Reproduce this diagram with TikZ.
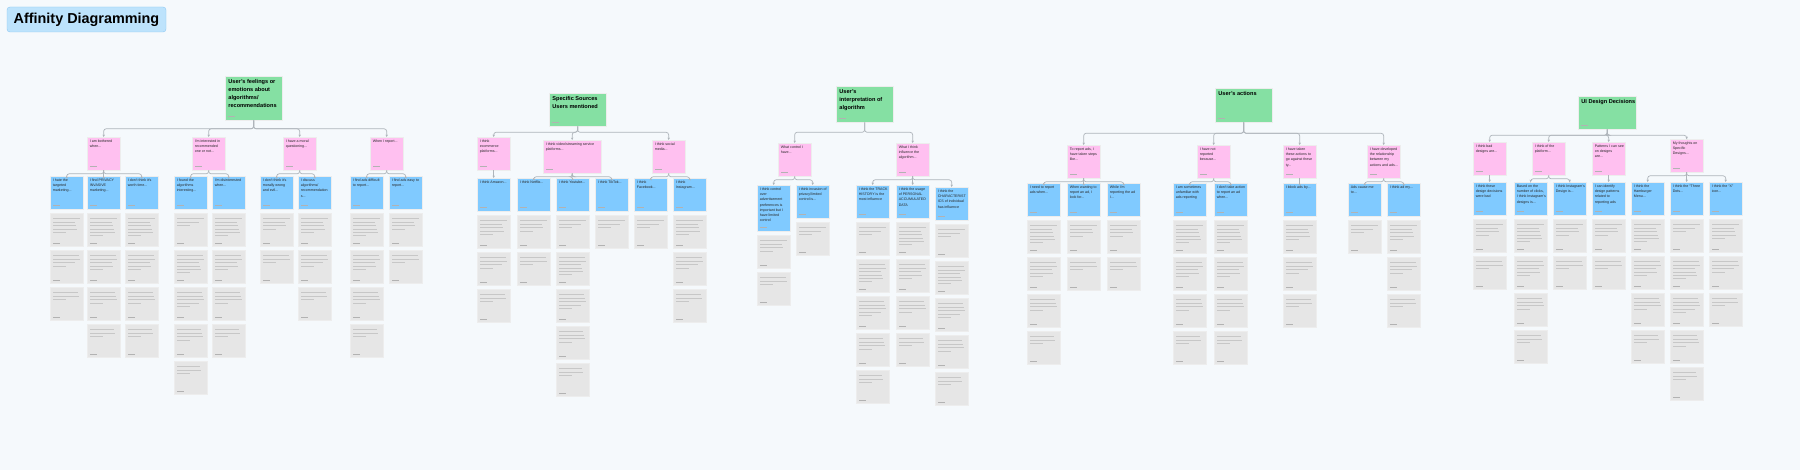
\documentclass[tikz,border=0pt]{standalone}
\usepackage{fontspec}
\setmainfont{Liberation Sans}
\usetikzlibrary{arrows.meta}
\definecolor{canvas}{HTML}{F5F9FC}
\definecolor{titlefill}{HTML}{BDE3FC}
\definecolor{titleline}{HTML}{8CC8F2}
\definecolor{stgreen}{HTML}{85E0A3}
\definecolor{stpink}{HTML}{FFC0F0}
\definecolor{stblue}{HTML}{80CAFF}
\definecolor{stgrey}{HTML}{E6E6E6}
\definecolor{linkc}{HTML}{AEB4BA}

\begin{document}
\begin{tikzpicture}[x=1pt, y=1pt,
    sticky/.style={anchor=north west, minimum width=33pt, minimum height=33pt, inner sep=0pt,
        draw=black!7, line width=.3pt,
        path picture={\draw[black!30, line width=.6pt] ([shift={(3,3.5)}]path picture bounding box.south west) -- ++(7,0);}},
    head/.style={sticky, fill=stgreen, minimum width=57pt},
    topic/.style={sticky, fill=stpink},
    idea/.style={sticky, fill=stblue},
    quote/.style={sticky, fill=stgrey},
    words/.style={anchor=north west, inner sep=2.6pt, align=left, text=black!85,
        font=\fontsize{3.6}{5.2}\selectfont},
    hwords/.style={words, inner sep=3.2pt, text=black, font=\fontsize{5.6}{8}\selectfont\bfseries},
    greek/.style={black!22, line width=.7pt},
    link/.style={draw=linkc, line width=.7pt, rounded corners=2.5pt, -{Stealth[length=2.4pt,width=2.4pt]}}]

    \useasboundingbox (0,0) rectangle (1800,-470);
    \fill[canvas] (0,0) rectangle (1800,-470);
    \node[draw=titleline, fill=titlefill, rounded corners=3pt, minimum width=159pt, minimum height=25pt,
        font=\fontsize{14.4}{17}\selectfont\bfseries] (title) at (86.5,-19.5) {Affinity Diagramming};

    % feelings
    \node[head, minimum height=44pt, label={[hwords]north west:{User's feelings or\\emotions about\\algorithms/\\recommendations}}] (g1) at (225,-76) {};
    \node[topic, label={[words]north west:{I am bothered\\when...}}] (p11) at (87,-137) {};
    \node[topic, label={[words]north west:{I'm interested in\\recommended\\one or not...}}] (p12) at (192,-137) {};
    \node[topic, label={[words]north west:{I have a moral\\questioning...}}] (p13) at (283,-137) {};
    \node[topic, label={[words]north west:{When I report...}}] (p14) at (370,-137) {};
    \node[idea, label={[words]north west:{I hate the\\targeted\\marketing...}}] (b11) at (50,-176) {};
    \node[idea, label={[words]north west:{I find PRIVACY\\INVASIVE\\marketing...}}] (b12) at (87,-176) {};
    \node[idea, label={[words]north west:{I don't think it's\\worth time...}}] (b13) at (125,-176) {};
    \node[idea, label={[words]north west:{I found the\\algorithms\\interesting...}}] (b14) at (174,-176) {};
    \node[idea, label={[words]north west:{I'm disinterested\\when...}}] (b15) at (212,-176) {};
    \node[idea, label={[words]north west:{I don't think it's\\morally wrong\\and evil...}}] (b16) at (260,-176) {};
    \node[idea, label={[words]north west:{I discuss\\algorithms/\\recommendation\\s...}}] (b17) at (298,-176) {};
    \node[idea, label={[words]north west:{I find ads difficult\\to report...}}] (b18) at (350,-176) {};
    \node[idea, label={[words]north west:{I find ads easy to\\report...}}] (b19) at (389,-176) {};

    % sources
    \node[head, label={[hwords]north west:{Specific Sources\\Users mentioned}}] (g2) at (549,-93) {};
    \node[topic, label={[words]north west:{I think\\ecommerce\\platforms...}}] (p21) at (477,-137) {};
    \node[topic, minimum width=58pt, label={[words]north west:{I think video/streaming service\\platforms...}}] (p22) at (543,-140) {};
    \node[topic, label={[words]north west:{I think social\\media...}}] (p23) at (652,-140) {};
    \node[idea, label={[words]north west:{I think Amazon...}}] (b21) at (477,-178) {};
    \node[idea, label={[words]north west:{I think Netflix...}}] (b22) at (517,-178) {};
    \node[idea, label={[words]north west:{I think Youtube...}}] (b23) at (556,-178) {};
    \node[idea, label={[words]north west:{I think TikTok...}}] (b24) at (595,-178) {};
    \node[idea, label={[words]north west:{I think\\Facebook...}}] (b25) at (634,-178) {};
    \node[idea, label={[words]north west:{I think\\Instagram...}}] (b26) at (673,-178) {};

    % interpretation
    \node[head, minimum height=36pt, label={[hwords]north west:{User's\\interpretation of\\algorithm}}] (g3) at (836,-86) {};
    \node[topic, label={[words]north west:{What control I\\have...}}] (p31) at (778,-143) {};
    \node[topic, label={[words]north west:{What I think\\influence the\\algorithm...}}] (p32) at (896,-143) {};
    \node[idea, minimum height=46pt, label={[words]north west:{I think control\\over\\advertisement\\preferences is\\important but I\\have limited\\control}}] (b31) at (757,-185) {};
    \node[idea, label={[words]north west:{I think invasion of\\privacy/limited\\control is...}}] (b32) at (796,-185) {};
    \node[idea, label={[words]north west:{I think the TRACK\\HISTORY is the\\most influence}}] (b33) at (856,-185) {};
    \node[idea, label={[words]north west:{I think the usage\\of PERSONAL\\ACCUMULATED\\DATA}}] (b34) at (896,-185) {};
    \node[idea, label={[words]north west:{I think the\\CHARACTERIST\\ICS of individual\\has influence}}] (b35) at (935,-187) {};

    % actions
    \node[head, minimum height=34pt, label={[hwords]north west:{User's actions}}] (g4) at (1215,-88) {};
    \node[topic, label={[words]north west:{To report ads, I\\have taken steps\\like...}}] (p41) at (1067,-145) {};
    \node[topic, label={[words]north west:{I have not\\reported\\because...}}] (p42) at (1197,-145) {};
    \node[topic, label={[words]north west:{I have taken\\these actions to\\go against these\\ty...}}] (p43) at (1283,-145) {};
    \node[topic, label={[words]north west:{I have developed\\the relationship\\between my\\actions and ads...}}] (p44) at (1367,-145) {};
    \node[idea, label={[words]north west:{I need to report\\ads when...}}] (b41) at (1027,-183) {};
    \node[idea, label={[words]north west:{When wanting to\\report an ad, I\\look for...}}] (b42) at (1067,-183) {};
    \node[idea, label={[words]north west:{While I'm\\reporting the ad\\I...}}] (b43) at (1107,-183) {};
    \node[idea, label={[words]north west:{I am sometimes\\unfamiliar with\\ads reporting}}] (b44) at (1173,-183) {};
    \node[idea, label={[words]north west:{I don't take action\\to report an ad\\when...}}] (b45) at (1214,-183) {};
    \node[idea, label={[words]north west:{I block ads by...}}] (b46) at (1283,-183) {};
    \node[idea, label={[words]north west:{Ads cause me\\to...}}] (b47) at (1348,-183) {};
    \node[idea, label={[words]north west:{I think ad my...}}] (b48) at (1387,-183) {};

    % ui design
    \node[head, minimum width=58pt, label={[hwords]north west:{UI Design Decisions}}] (g5) at (1578,-96) {};
    \node[topic, label={[words]north west:{I think bad\\designs are...}}] (p51) at (1473,-142) {};
    \node[topic, label={[words]north west:{I think of the\\platform...}}] (p52) at (1532,-142) {};
    \node[topic, label={[words]north west:{Patterns I can see\\on designs\\are...}}] (p53) at (1592,-142) {};
    \node[topic, label={[words]north west:{My thoughts on\\Specific\\Designs...}}] (p54) at (1670,-139) {};
    \node[idea, label={[words]north west:{I think these\\design decisions\\were bad}}] (b51) at (1473,-182) {};
    \node[idea, label={[words]north west:{Based on the\\number of clicks,\\I think Instagram's\\designs is...}}] (b52) at (1514,-182) {};
    \node[idea, label={[words]north west:{I think Instagram's\\Design is...}}] (b53) at (1553,-182) {};
    \node[idea, label={[words]north west:{I can identify\\design patterns\\related to\\reporting ads}}] (b54) at (1592,-182) {};
    \node[idea, label={[words]north west:{I think the\\Hamburger\\Menu...}}] (b55) at (1631,-182) {};
    \node[idea, label={[words]north west:{I think the ``Three\\Dots...}}] (b56) at (1670,-182) {};
    \node[idea, label={[words]north west:{I think the ``X''\\icon...}}] (b57) at (1709,-182) {};

    \foreach \p in {p11,p12,p13,p14} \draw[link] (g1.south) -- ++(0,-8.5) -| (\p.north);
    \foreach \p in {p21,p22,p23} \draw[link] (g2.south) -- ++(0,-6) -| (\p.north);
    \foreach \p in {p31,p32} \draw[link] (g3.south) -- ++(0,-10) -| (\p.north);
    \foreach \p in {p41,p42,p43,p44} \draw[link] (g4.south) -- ++(0,-11) -| (\p.north);
    \foreach \p in {p51,p52,p53,p54} \draw[link] (g5.south) -- ++(0,-6) -| (\p.north);

    \foreach \p/\b in {p11/b11,p11/b12,p11/b13,p12/b14,p12/b15,p13/b16,p13/b17,p14/b18,p14/b19,
                       p21/b21,p22/b22,p22/b23,p22/b24,p23/b25,p23/b26,
                       p31/b31,p31/b32,p32/b33,p32/b34,p32/b35,
                       p41/b41,p41/b42,p41/b43,p42/b44,p42/b45,p43/b46,p44/b47,p44/b48,
                       p51/b51,p52/b52,p52/b53,p53/b54,p54/b55,p54/b56,p54/b57}
        \draw[link] (\p.south) -- ++(0,-3.5) -| (\b.north);

    \foreach \col/\cnt in {b11/3,b12/4,b13/4,b14/5,b15/4,b16/2,b17/3,b18/4,b19/2,
                           b21/3,b22/2,b23/5,b24/1,b25/1,b26/3,
                           b31/2,b32/1,b33/5,b34/4,b35/5,
                           b41/4,b42/2,b43/2,b44/4,b45/4,b46/3,b47/1,b48/3,
                           b51/2,b52/4,b53/2,b54/2,b55/4,b56/5,b57/3}
        \foreach \i in {1,...,\cnt} {
            \node[quote] (\col-\i) at ([yshift={-4-37*(\i-1)}]\col.south west) {};
            \pgfmathtruncatemacro\nl{3+mod(3*\i+\cnt,4)}
            \foreach \k in {1,...,\nl}
                \draw[greek] ([shift={(3,{-2-3.4*\k})}]\col-\i.north west) -- ++({\k==\nl ? 13 : 27-mod(5*\k+\i,6)},0);
        }
\end{tikzpicture}
\end{document}
